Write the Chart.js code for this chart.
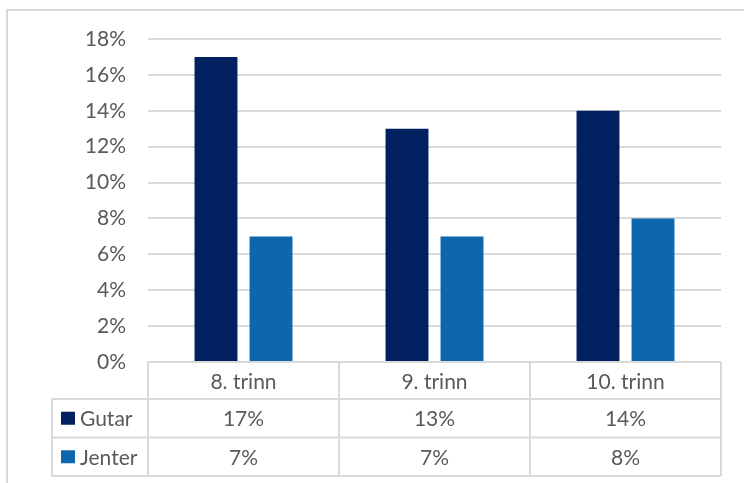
<!DOCTYPE html>
<html>
<head>
<meta charset="utf-8">
<title>Gutar og jenter etter trinn</title>
<script src="https://cdn.jsdelivr.net/npm/chart.js@4/dist/chart.umd.min.js"></script>
<style>
    body { margin: 0; background: #ffffff; }
    #wrap { width: 744px; height: 483px; }
</style>
</head>
<body>
<div id="wrap"><canvas id="canvas" width="744" height="483"></canvas></div>
<script>
var categories = ['8. trinn', '9. trinn', '10. trinn'];
var gutar = [17, 13, 14];
var jenter = [7, 7, 8];
var seriesNames = ['Gutar', 'Jenter'];
var seriesColors = ['#002060', '#0E66AD'];
var yTicks = [0, 2, 4, 6, 8, 10, 12, 14, 16, 18];

(function () {
    var lineColor = '#d9d9d9';
    var textColor = '#595959';
    var fontFamily = 'Lato, "Open Sans", sans-serif';
    var fontSize = 21;

    Chart.defaults.font.family = fontFamily;
    Chart.defaults.font.size = fontSize;
    Chart.defaults.color = textColor;

    // outer frame + data table under the bars
    var dataTable = {
        id: 'dataTable',
        beforeDraw: function (chart) {
            var ctx = chart.ctx;
            ctx.save();
            ctx.strokeStyle = lineColor;
            ctx.lineWidth = 2;
            ctx.strokeRect(7, 10, 800, 500);
            ctx.restore();
        },
        afterDraw: function (chart) {
            var ctx = chart.ctx;
            var x = chart.scales.x;
            var colW = x.width / categories.length;
            var top = chart.chartArea.bottom;
            var rows = [top, top + 37, top + 75.5, top + 114];
            var legendLeft = 52;
            var rowValues = [gutar, jenter];

            ctx.save();
            ctx.strokeStyle = lineColor;
            ctx.lineWidth = 2;
            ctx.beginPath();
            // header row
            ctx.moveTo(x.left, rows[0]);
            ctx.lineTo(x.right, rows[0]);
            for (var i = 0; i <= categories.length; i++) {
                var cx = x.left + i * colW;
                ctx.moveTo(cx, rows[0]);
                ctx.lineTo(cx, rows[3]);
            }
            // series rows
            for (var r = 1; r < rows.length; r++) {
                ctx.moveTo(legendLeft, rows[r]);
                ctx.lineTo(x.right, rows[r]);
            }
            ctx.moveTo(legendLeft, rows[1]);
            ctx.lineTo(legendLeft, rows[3]);
            ctx.stroke();

            ctx.font = fontSize + 'px ' + fontFamily;
            ctx.textBaseline = 'middle';
            for (var s = 0; s < rowValues.length; s++) {
                var mid = (rows[s + 1] + rows[s + 2]) / 2;
                ctx.fillStyle = seriesColors[s];
                ctx.fillRect(61, mid - 6.5, 14, 13);
                ctx.fillStyle = textColor;
                ctx.textAlign = 'left';
                ctx.fillText(seriesNames[s], 80, mid + 1);
                ctx.textAlign = 'center';
                rowValues[s].forEach(function (v, j) {
                    ctx.fillText(v + '%', x.getPixelForValue(j), mid + 1);
                });
            }
            ctx.restore();
        }
    };

    var ctx = document.getElementById('canvas').getContext('2d');
    var chart = new Chart(ctx, {
        type: 'bar',
        data: {
            labels: categories,
            datasets: [{
                label: seriesNames[0],
                data: gutar,
                backgroundColor: seriesColors[0],
                categoryPercentage: 0.576,
                barPercentage: 0.78
            }, {
                label: seriesNames[1],
                data: jenter,
                backgroundColor: seriesColors[1],
                categoryPercentage: 0.576,
                barPercentage: 0.78
            }]
        },
        options: {
            responsive: false,
            animation: false,
            devicePixelRatio: 1,
            layout: {
                padding: { left: 0, right: 23, top: 39, bottom: 85 }
            },
            plugins: {
                legend: { display: false },
                tooltip: { enabled: false }
            },
            scales: {
                x: {
                    grid: { display: false, drawTicks: false },
                    border: { display: false },
                    ticks: { padding: 8, font: { size: fontSize } },
                    afterFit: function (scale) { scale.height = 36; }
                },
                y: {
                    min: 0,
                    max: 18,
                    afterBuildTicks: function (scale) {
                        scale.ticks = yTicks.map(function (v) { return { value: v }; });
                    },
                    grid: { color: lineColor, lineWidth: 2, drawTicks: false },
                    border: { display: false },
                    ticks: {
                        padding: 22,
                        font: { size: fontSize },
                        callback: function (value) { return value + '%'; }
                    },
                    afterFit: function (scale) { scale.width = 148; }
                }
            }
        },
        plugins: [dataTable]
    });
})();
</script>
</body>
</html>
